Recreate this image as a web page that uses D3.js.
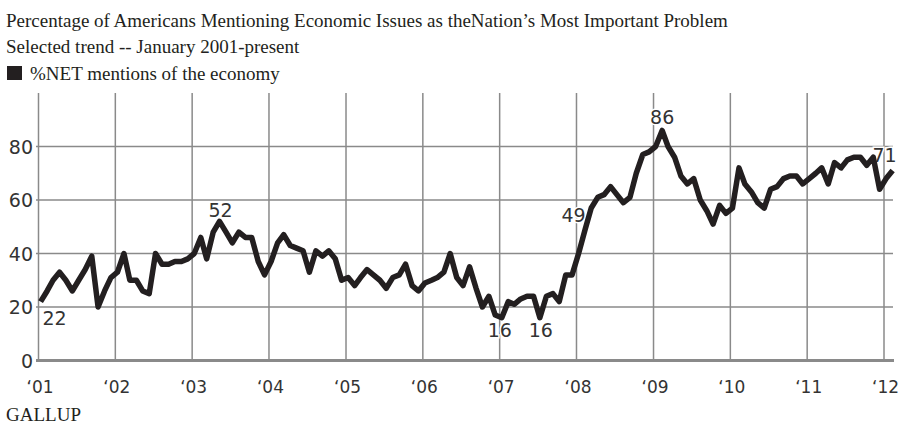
<!DOCTYPE html>
<html lang="en">
<head>
<meta charset="UTF-8">
<title>Economic issues as most important problem</title>
<script src="https://d3js.org/d3.v7.min.js"></script>
<style>
body { margin: 0; background: #fff; }
svg { display: block; }
.head { font-family: "Liberation Serif", "Times New Roman", serif; fill: #231f20; }
.tick-label, .callout { font-family: "DejaVu Sans", sans-serif; fill: #333; }
</style>
</head>
<body>
<svg id="chart" width="899" height="425"></svg>
<script>
// category axis: months of each year, Jan 2001 - Feb 2012
const years = [2001, 2002, 2003, 2004, 2005, 2006, 2007, 2008, 2009, 2010, 2011, 2012];
const months = ["Jan", "Feb", "Mar", "Apr", "May", "Jun", "Jul", "Aug", "Sep", "Oct", "Nov", "Dec"];

// %NET mentions of the economy, one array per year
const net2001 = [22, 26, 30, 33, 30, 26, 30, 34, 39, 20, 26, 31];
const net2002 = [33, 40, 30, 30, 26, 25, 40, 36, 36, 37, 37, 38];
const net2003 = [40, 46, 38, 48, 52, 48, 44, 48, 46, 46, 37, 32];
const net2004 = [37, 44, 47, 43, 42, 41, 33, 41, 39, 41, 38, 30];
const net2005 = [31, 28, 31, 34, 32, 30, 27, 31, 32, 36, 28, 26];
const net2006 = [29, 30, 31, 33, 40, 31, 28, 35, 27, 20, 24, 17];
const net2007 = [16, 22, 21, 23, 24, 24, 16, 24, 25, 22, 32, 32];
const net2008 = [40, 49, 57, 61, 62, 65, 62, 59, 61, 70, 77, 78];
const net2009 = [80, 86, 80, 76, 69, 66, 68, 60, 56, 51, 58, 55];
const net2010 = [57, 72, 66, 63, 59, 57, 64, 65, 68, 69, 69, 66];
const net2011 = [68, 70, 72, 66, 74, 72, 75, 76, 76, 73, 76, 64];
const net2012 = [68, 71];

const yTicks = [0, 20, 40, 60, 80];
const xTickLabels = ["‘01", "‘02", "‘03", "‘04", "‘05", "‘06", "‘07", "‘08", "‘09", "‘10", "‘11", "‘12"];

// labelled readings (month keys)
const calloutKeys = ["2001-Jan", "2003-May", "2007-Jan", "2007-Jul", "2008-Feb", "2009-Feb", "2012-Feb"];

const titleText = "Percentage of Americans Mentioning Economic Issues as theNation’s Most Important Problem";
const subtitleText = "Selected trend -- January 2001-present";
const legendText = "%NET mentions of the economy";
const sourceText = "GALLUP";

const byYear = [net2001, net2002, net2003, net2004, net2005, net2006, net2007, net2008, net2009, net2010, net2011, net2012];

// flatten into points; each poll sits roughly a third into its month
const data = [];
byYear.forEach((vals, yi) => {
    vals.forEach((v, mi) => {
        data.push({ key: years[yi] + "-" + months[mi], date: new Date(years[yi], mi, 11), value: v });
    });
});

const svg = d3.select("#chart");

const x = d3.scaleTime()
    .domain([new Date(2001, 0, 1), new Date(2012, 0, 1)])
    .range([38.5, 884]);

const y = d3.scaleLinear()
    .domain([0, 100])
    .range([360.5, 93]);

const plotLeft = 36, plotRight = 893;

// header
svg.append("text").attr("class", "head").attr("x", 6).attr("y", 26.5)
    .style("font-size", "19px").text(titleText);
svg.append("text").attr("class", "head").attr("x", 6).attr("y", 53)
    .style("font-size", "19px").text(subtitleText);
svg.append("rect").attr("x", 7).attr("y", 66).attr("width", 15).attr("height", 14).attr("fill", "#231f20");
svg.append("text").attr("class", "head").attr("x", 30).attr("y", 80)
    .style("font-size", "19px").text(legendText);

// grid
const grid = svg.append("g");
grid.selectAll(".hline")
    .data(yTicks.filter(d => d > 0))
    .join("line")
    .attr("x1", plotLeft).attr("x2", plotRight)
    .attr("y1", d => y(d)).attr("y2", d => y(d))
    .attr("stroke", "#8a8a8a").attr("stroke-width", 1.5);

const yearDates = years.map(yr => new Date(yr, 0, 1));
grid.selectAll(".vline")
    .data(yearDates)
    .join("line")
    .attr("x1", d => x(d)).attr("x2", d => x(d))
    .attr("y1", y(100)).attr("y2", y(0))
    .attr("stroke", "#8a8a8a").attr("stroke-width", 1.5);

// baseline
svg.append("line")
    .attr("x1", plotLeft).attr("x2", plotRight + 1)
    .attr("y1", y(0)).attr("y2", y(0))
    .attr("stroke", "#8a8a8a").attr("stroke-width", 3);

// y axis labels
const yAxis = d3.axisLeft(y).tickValues(yTicks).tickSize(0).tickPadding(0);
const ya = svg.append("g").attr("transform", "translate(33,0)").call(yAxis);
ya.select(".domain").remove();
ya.selectAll("text").attr("class", "tick-label").attr("dy", "0.36em")
    .style("font-size", "19px").attr("fill", "#333");

// x axis labels
const xAxis = d3.axisBottom(x).tickValues(yearDates).tickSize(0).tickPadding(0)
    .tickFormat((d, i) => xTickLabels[i]);
const xa = svg.append("g").attr("transform", "translate(1,392.5)").call(xAxis);
xa.select(".domain").remove();
xa.selectAll("text").attr("class", "tick-label").attr("dy", 0)
    .style("font-size", "17px").attr("fill", "#333");

// callouts
const calloutOffset = {
    "2001-Jan": [14, 23],
    "2003-May": [1, -4],
    "2007-Jan": [-2, 19.5],
    "2007-Jul": [1, 19.5],
    "2008-Feb": [-11.5, -7],
    "2009-Feb": [0, -6.5],
    "2012-Feb": [-8, -9]
};
const callouts = data.filter(d => calloutKeys.includes(d.key));
svg.selectAll(".callout")
    .data(callouts)
    .join("text")
    .attr("class", "callout")
    .attr("x", d => x(d.date) + calloutOffset[d.key][0])
    .attr("y", d => y(d.value) + calloutOffset[d.key][1])
    .attr("text-anchor", "middle")
    .style("font-size", "19px")
    .attr("stroke", "#fff").attr("stroke-width", 3).attr("paint-order", "stroke")
    .text(d => d.value);

// trend line
const line = d3.line()
    .x(d => x(d.date))
    .y(d => y(d.value));

svg.append("path")
    .datum(data)
    .attr("d", line)
    .attr("fill", "none")
    .attr("stroke", "#231f20")
    .attr("stroke-width", 5.5)
    .attr("stroke-linejoin", "round");

// source
svg.append("text").attr("class", "head").attr("x", 6).attr("y", 421)
    .style("font-size", "19px").text(sourceText);
</script>
</body>
</html>
